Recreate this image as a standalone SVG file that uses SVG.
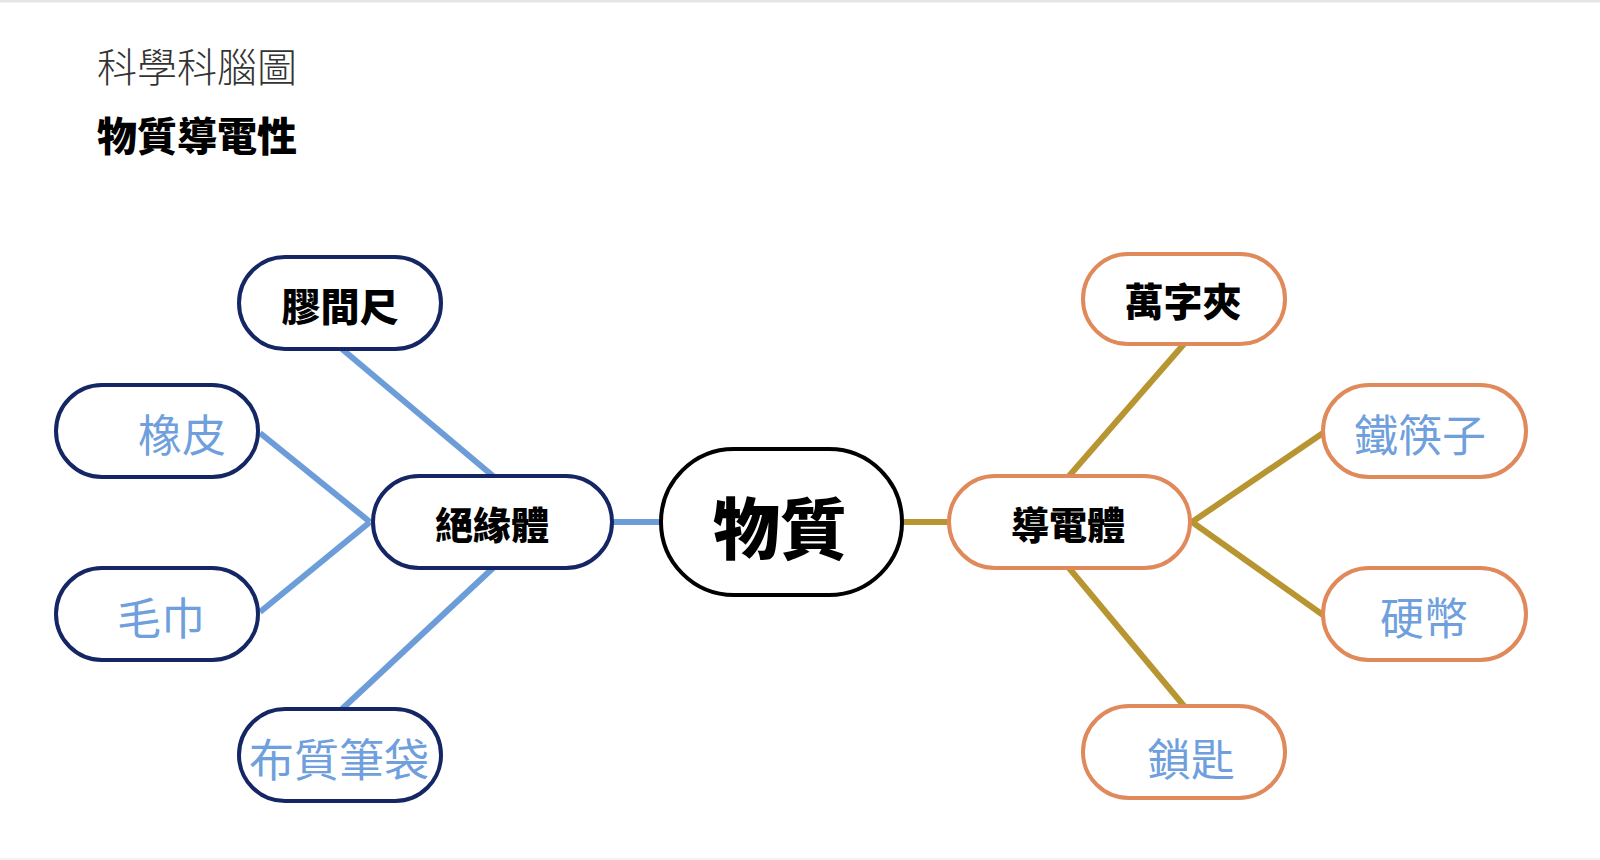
<svg xmlns="http://www.w3.org/2000/svg" width="1600" height="860" viewBox="0 0 1600 860">
<style>
.t{font-family:"Noto Sans CJK TC","Noto Sans CJK SC",sans-serif;text-anchor:middle;dominant-baseline:central}
.b{font-weight:900;fill:#000}
.l{font-weight:400;fill:#6fa0dd}
.ins{fill:#fff;stroke:#142663;stroke-width:4}
.con{fill:#fff;stroke:#e0895a;stroke-width:4}
.ctr{fill:#fff;stroke:#000;stroke-width:4}
.cb{stroke:#6c9dd8;stroke-width:6;fill:none}
.cg{stroke:#b79530;stroke-width:6;fill:none}
</style>
<rect x="0" y="0" width="1600" height="860" fill="#fff"/>
<line x1="0" y1="1" x2="1600" y2="1" stroke="#e6e6e6" stroke-width="3"/>
<line x1="0" y1="859" x2="1600" y2="859" stroke="#f2f2f2" stroke-width="2"/>
<text class="t" x="97" y="65" style="text-anchor:start;font-weight:300;fill:#333" font-size="40">科學科腦圖</text>
<text class="t b" x="97" y="134" style="text-anchor:start" font-size="40">物質導電性</text>
<g id="connectors">
<line class="cb" x1="342" y1="349" x2="493" y2="476"/>
<line class="cb" x1="260" y1="433" x2="370" y2="522"/>
<line class="cb" x1="260" y1="612" x2="370" y2="522"/>
<line class="cb" x1="342" y1="709" x2="493" y2="568"/>
<line class="cb" x1="612" y1="522" x2="661" y2="522" stroke-width="7"/>
<line class="cg" x1="902" y1="522" x2="949" y2="522" stroke-width="7"/>
<line class="cg" x1="1069" y1="476" x2="1184" y2="344"/>
<line class="cg" x1="1192" y1="522" x2="1323" y2="433"/>
<line class="cg" x1="1192" y1="522" x2="1323" y2="615"/>
<line class="cg" x1="1069" y1="568" x2="1184" y2="706"/>
</g>
<g id="n-center"><rect class="ctr" x="661" y="449" width="241" height="146" rx="73"/><text class="t b" x="780" y="524" font-size="67">物質</text></g>
<g id="n-insulator"><rect class="ins" x="373" y="476" width="239" height="92" rx="46"/><text class="t b" x="492" y="522" font-size="38">絕緣體</text></g>
<g id="n-ruler"><rect class="ins" x="239" y="257" width="202" height="92" rx="46"/><text class="t b" x="340" y="304" font-size="39">膠間尺</text></g>
<g id="n-eraser"><rect class="ins" x="56" y="385" width="202" height="92" rx="46"/><text class="t l" x="182" y="433" font-size="44">橡皮</text></g>
<g id="n-towel"><rect class="ins" x="56" y="568" width="202" height="92" rx="46"/><text class="t l" x="161" y="616" font-size="44">毛巾</text></g>
<g id="n-pencilcase"><rect class="ins" x="239" y="709" width="202" height="92" rx="46"/><text class="t l" x="339" y="757" font-size="45">布質筆袋</text></g>
<g id="n-conductor"><rect class="con" x="949" y="476" width="241" height="92" rx="46"/><text class="t b" x="1068" y="522" font-size="38">導電體</text></g>
<g id="n-clip"><rect class="con" x="1083" y="254" width="202" height="90" rx="45"/><text class="t b" x="1183" y="299" font-size="39">萬字夾</text></g>
<g id="n-chopsticks"><rect class="con" x="1323" y="385" width="203" height="92" rx="46"/><text class="t l" x="1420" y="433" font-size="44">鐵筷子</text></g>
<g id="n-coin"><rect class="con" x="1323" y="568" width="203" height="92" rx="46"/><text class="t l" x="1424" y="616" font-size="44">硬幣</text></g>
<g id="n-key"><rect class="con" x="1083" y="706" width="202" height="92" rx="46"/><text class="t l" x="1191" y="757" font-size="44">鎖匙</text></g>
</svg>
